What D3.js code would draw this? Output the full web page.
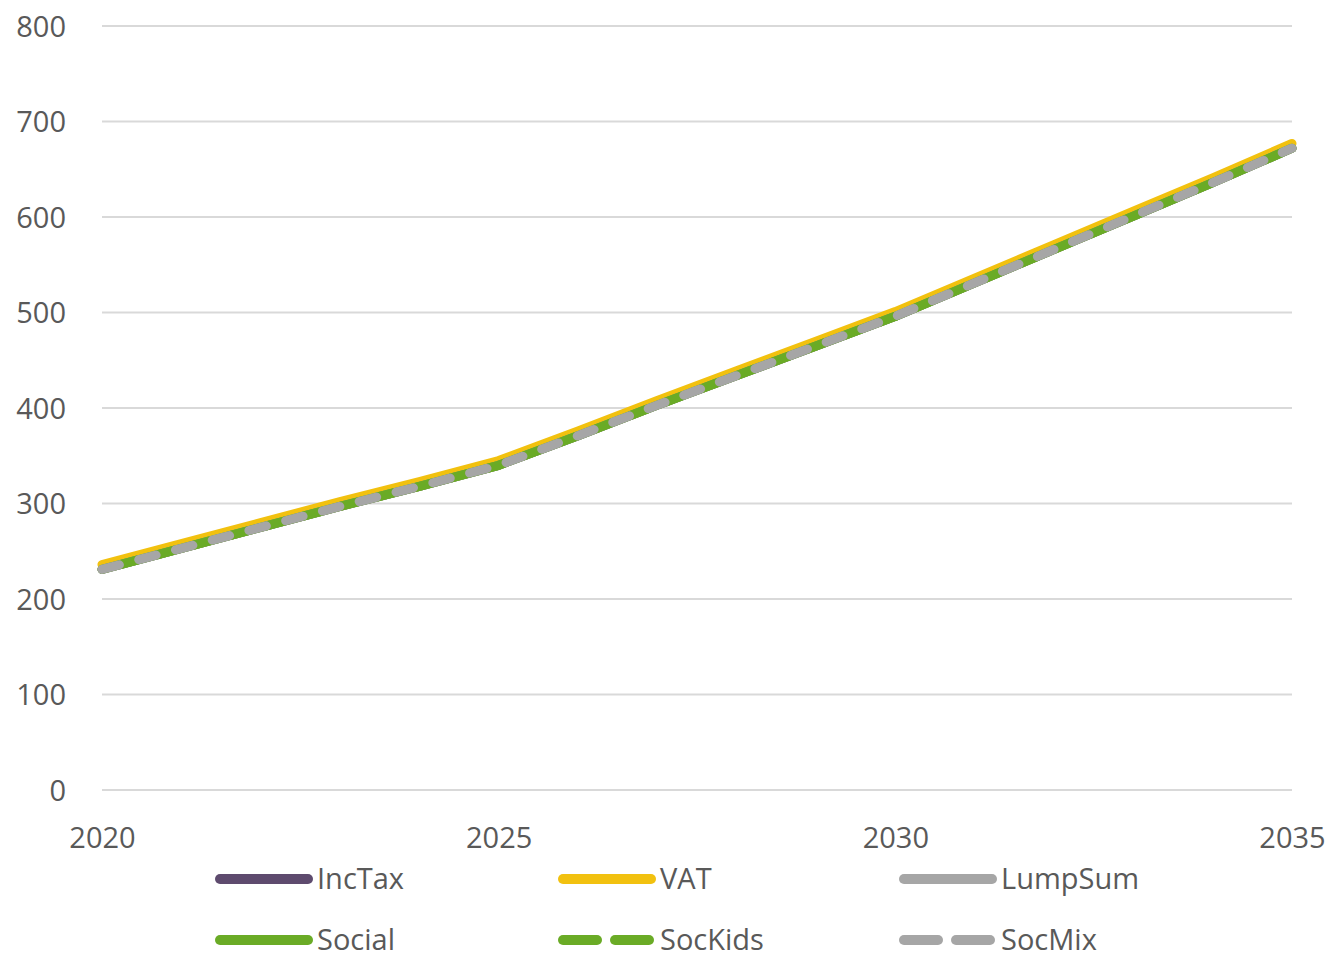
<!DOCTYPE html>
<html>
<head>
<meta charset="utf-8">
<script src="https://cdn.jsdelivr.net/npm/d3@7"></script>
<style>
  html, body { margin: 0; padding: 0; background: #fff; }
  svg { display: block; }
  text { font-family: "Open Sans", "Noto Sans", sans-serif; fill: #595959; }
</style>
</head>
<body>
<svg id="chart" width="1332" height="957"></svg>
<script>
// Years on the category axis
const years = [2020, 2021, 2022, 2023, 2024, 2025, 2026, 2027, 2028, 2029, 2030, 2031, 2032, 2033, 2034, 2035];
const xTickLabels = ["2020", "2025", "2030", "2035"];
const yTicks = [0, 100, 200, 300, 400, 500, 600, 700, 800];

// Scenario series
const incTax   = [231, 253, 275, 297, 318, 340, 371, 403, 434, 465, 496, 531, 566, 601, 636, 672];
const vat      = [236, 258, 280, 302, 323, 345, 376, 408, 439, 470, 501, 536, 571, 606, 641, 677];
const lumpSum  = [231, 253, 275, 297, 318, 340, 371, 403, 434, 465, 496, 531, 566, 601, 636, 672];
const social   = [231, 253, 275, 297, 318, 340, 371, 403, 434, 465, 496, 531, 566, 601, 636, 672];
const socKids  = [231, 253, 275, 297, 318, 340, 371, 403, 434, 465, 496, 531, 566, 601, 636, 672];
const socMix   = [231, 253, 275, 297, 318, 340, 371, 403, 434, 465, 496, 531, 566, 601, 636, 672];

const seriesNames = ["IncTax", "VAT", "LumpSum", "Social", "SocKids", "SocMix"];
const seriesValues = [incTax, vat, lumpSum, social, socKids, socMix];
const seriesColors = ["#5e4b6e", "#f2c10f", "#a6a6a6", "#6aab26", "#6aab26", "#a6a6a6"];
const seriesDashed = [false, false, false, false, true, true];

const svg = d3.select("#chart");
const lineWidth = 9;

const x = d3.scalePoint().domain(years).range([102, 1292]);
const y = d3.scaleLinear().domain([0, 800]).range([790, 26]);

// Horizontal gridlines
svg.append("g")
  .selectAll("line")
  .data(yTicks)
  .join("line")
  .attr("x1", 102).attr("x2", 1292)
  .attr("y1", d => y(d)).attr("y2", d => y(d))
  .attr("stroke", "#d9d9d9").attr("stroke-width", 2);

// Y axis labels
const yAxis = d3.axisLeft(y).tickValues(yTicks).tickSize(0).tickPadding(0);
const gy = svg.append("g").attr("transform", "translate(66,0)").call(yAxis);
gy.select(".domain").remove();
gy.selectAll("text").attr("font-size", 29).attr("fill", "#595959")
  .attr("font-family", '"Open Sans", sans-serif').attr("dy", "0.35em");

// X axis labels
const xAxis = d3.axisBottom(x).tickValues(xTickLabels.map(Number)).tickSize(0).tickPadding(0);
const gx = svg.append("g").attr("transform", "translate(0,838)").call(xAxis);
gx.select(".domain").remove();
gx.selectAll("text").attr("font-size", 29).attr("fill", "#595959")
  .attr("font-family", '"Open Sans", sans-serif').attr("dy", "0.35em");

// Series lines
const line = d3.line().x((d, i) => x(years[i])).y(d => y(d));
const lines = svg.append("g").attr("fill", "none");
seriesValues.forEach((vals, k) => {
  const p = lines.append("path")
    .attr("d", line(vals))
    .attr("stroke", seriesColors[k])
    .attr("stroke-width", lineWidth)
    .attr("stroke-linecap", "round")
    .attr("stroke-linejoin", "round");
  if (seriesDashed[k]) {
    p.attr("stroke-dasharray", "18 20");
    if (seriesNames[k] === "SocKids") p.attr("stroke-dashoffset", 19);
  }
});

// Legend
const legendItems = seriesNames.map((name, k) => ({
  name, color: seriesColors[k], dashed: seriesDashed[k],
  col: k % 3, row: Math.floor(k / 3)
}));
const colX = [220, 563, 904];
const rowY = [879, 940];
const lg = svg.append("g");
legendItems.forEach(it => {
  const x0 = colX[it.col], yy = rowY[it.row];
  if (it.dashed) {
    [[x0, x0 + 34], [x0 + 52, x0 + 86]].forEach(([a, b]) => {
      lg.append("line").attr("x1", a).attr("x2", b).attr("y1", yy).attr("y2", yy)
        .attr("stroke", it.color).attr("stroke-width", 10).attr("stroke-linecap", "round");
    });
  } else {
    lg.append("line").attr("x1", x0).attr("x2", x0 + 88).attr("y1", yy).attr("y2", yy)
      .attr("stroke", it.color).attr("stroke-width", 10).attr("stroke-linecap", "round");
  }
  lg.append("text").attr("x", x0 + 97).attr("y", yy)
    .attr("dy", "0.33em").attr("font-size", 29).text(it.name);
});
</script>
</body>
</html>
